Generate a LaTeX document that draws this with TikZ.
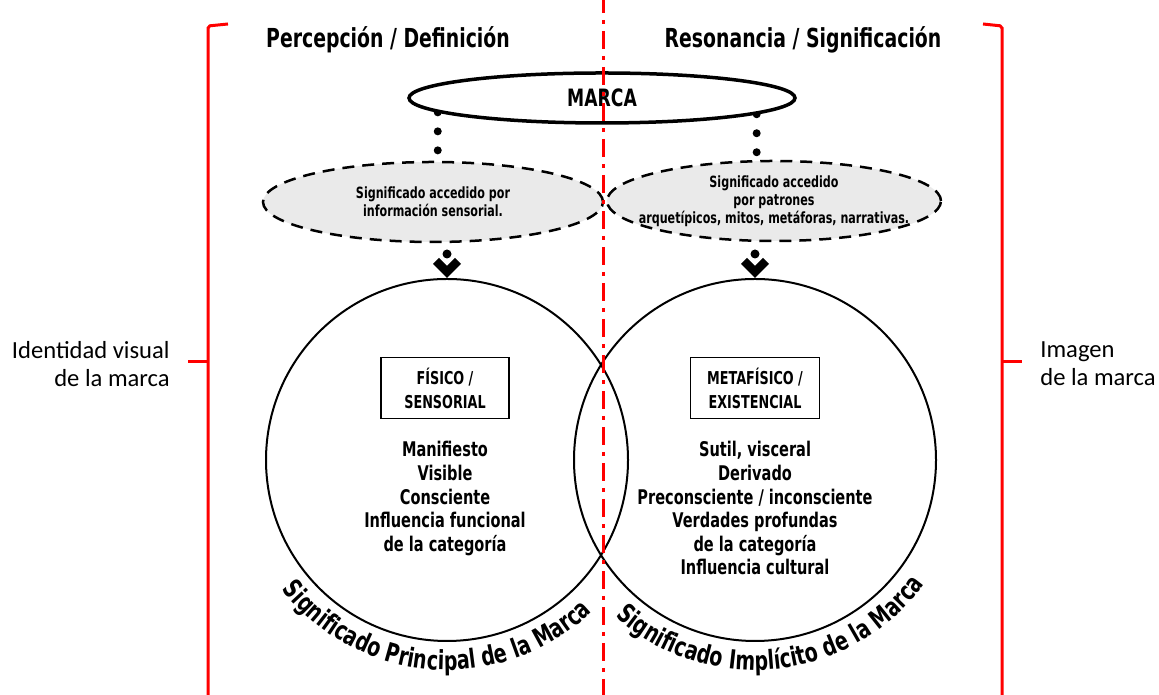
\documentclass[tikz,border=0pt]{standalone}
\usepackage{fontspec}
\setmainfont{Carlito}
\newfontfamily\heavyfont[FakeStretch=0.72]{DejaVu Sans}
\usetikzlibrary{shapes.geometric,positioning,decorations.text,backgrounds}
\newlength\pxu
\setlength\pxu{0.02cm}
\definecolor{ovalgray}{RGB}{234,234,234}

\begin{document}
\begin{tikzpicture}[x=1\pxu,y=1\pxu,
    titulo/.style={font=\heavyfont\bfseries\fontsize{14.9}{17}\selectfont},
    marcaoval/.style={ellipse,draw,fill=white,line width=3.5\pxu,minimum width=386\pxu,
      minimum height=50\pxu,inner sep=0pt,font=\heavyfont\bfseries\fontsize{13.6}{16}\selectfont},
    sentido/.style={ellipse,draw,fill=ovalgray,line width=2.5\pxu,dash pattern=on 12\pxu off 8\pxu,
      minimum width=340\pxu,minimum height=80\pxu,inner sep=0pt},
    sentidotexto/.style={align=center,inner sep=0pt,
      font=\heavyfont\bfseries\fontsize{8.8}{10.2}\selectfont},
    ambito/.style={circle,draw,line width=2\pxu,minimum size=362\pxu,inner sep=0pt},
    caja/.style={draw,line width=1.5\pxu,minimum width=128\pxu,minimum height=61\pxu,align=center,
      inner sep=0pt,font=\heavyfont\bfseries\fontsize{10.1}{13.6}\selectfont},
    lista/.style={align=center,inner sep=0pt,font=\heavyfont\bfseries\fontsize{11.5}{13.4}\selectfont},
    lado/.style={inner sep=0pt,font=\fontsize{14}{16}\selectfont},
    corchete/.style={red,line width=3\pxu,rounded corners=2\pxu},
    eje/.style={red,line width=3\pxu,dash pattern=on 18\pxu off 7\pxu on 4\pxu off 7\pxu},
    puntos/.style={line width=8\pxu,line cap=round,dash pattern=on 0pt off 19\pxu},
    curvo/.style={decorate,decoration={text along path,text align={center},
      text={|\heavyfont\bfseries\fontsize{15}{18}\selectfont|#1}}},
    vtip/.pic={
      \fill (-14,14) -- (0,0) -- (14,14) -- (8,20) -- (0,12) -- (-8,20) -- cycle;
      \fill (0,24) circle[radius=4.5];
    }]
  \useasboundingbox (0,0) rectangle (1159,695);

  % titles
  \node[titulo] (tituloL) at (388,655) {Percepción / Definición};
  \node[titulo] (tituloR) at (803,655) {Resonancia / Significación};

  % brand and the two ways of reading it
  \node[marcaoval] (marca) at (602,597) {MARCA};
  \node[sentido,label={[sentidotexto]center:Significado accedido por\\información sensorial.}]
    (sentL) at (433,493) {};
  \node[sentido,minimum width=334\pxu,
    label={[sentidotexto]center:Significado accedido\\por patrones\\arquetípicos, mitos, metáforas, narrativas.}]
    (sentR) at (774,494) {};

  \begin{scope}[on background layer]
    \draw[puntos] (marca.185.5) -- (marca.185.5 |- sentL.north);
    \draw[puntos] (marca.354.3) -- (marca.354.3 |- sentR.north);
  \end{scope}

  % the two circles
  \node[ambito] (circL) at (447,235) {};
  \node[ambito] (circR) at (755,235) {};
  \pic at (circL.north) {vtip};
  \pic at (circR.north) {vtip};

  \node[caja] (cajaL) at (445,307) {FÍSICO /\\SENSORIAL};
  \node[caja,minimum width=129\pxu] (cajaR) at (755,307) {METAFÍSICO /\\EXISTENCIAL};

  \node[lista,below=22\pxu of cajaL] (listaL)
    {Manifiesto\\Visible\\Consciente\\Influencia funcional\\de la categoría};
  \node[lista,below=22\pxu of cajaR] (listaR)
    {Sutil, visceral\\Derivado\\Preconsciente / inconsciente\\Verdades profundas\\de la categoría\\Influencia cultural};

  \path[curvo={Significado Principal de la Marca}]
    ([shift={(196:210)}]circL.center) arc[start angle=196,end angle=336,radius=210];
  \path[curvo={Significado Implícito de la Marca}]
    ([shift={(206:210)}]circR.center) arc[start angle=206,end angle=346,radius=210];

  % side labels and braces
  \node[lado,align=right,anchor=east] (ladoL) at (170,331) {Identidad visual\\de la marca};
  \node[lado,align=left,anchor=west] (ladoR) at (1040,331) {Imagen\\de la marca};
  \draw[corchete] (228,671) -- (208,669) -- (208,-5);
  \draw[corchete] (208,333) -- (188,333);
  \draw[corchete] (983,671) -- (1002,669) -- (1002,-5);
  \draw[corchete] (1002,333) -- (1022,333);

  % axis
  \draw[eje] (603,700) -- (603,-5);
\end{tikzpicture}
\end{document}
